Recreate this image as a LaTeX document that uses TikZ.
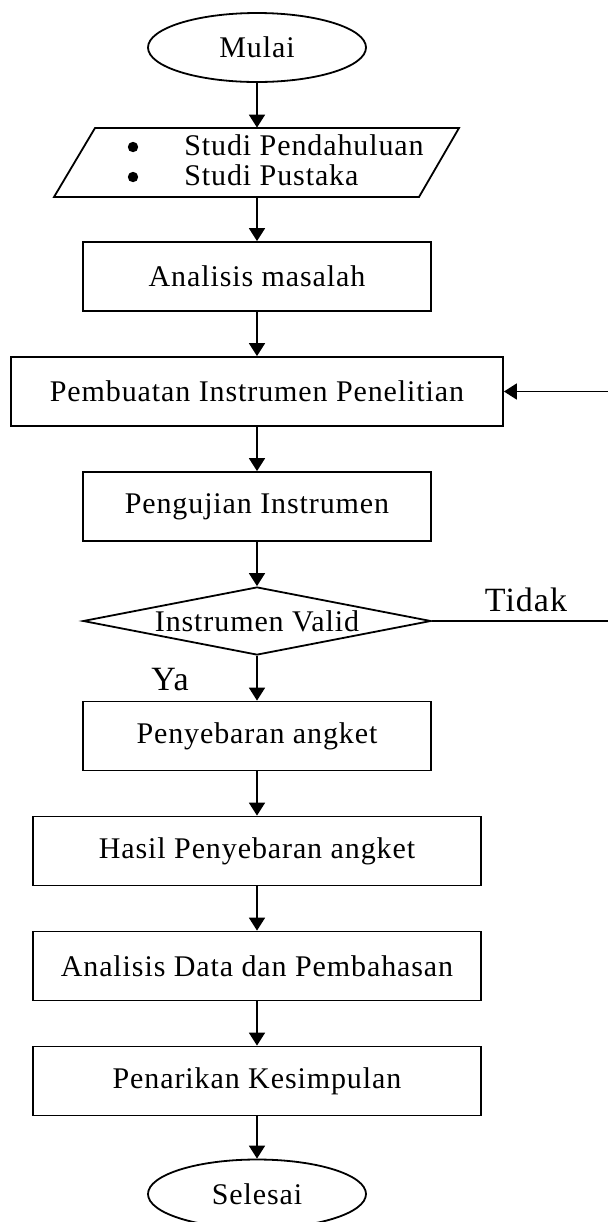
\documentclass[tikz,border=0pt]{standalone}
\usepackage{fontspec}
\setmainfont{Liberation Serif}[LetterSpace=3]
\usetikzlibrary{shapes.geometric,arrows.meta}

\begin{document}
\begin{tikzpicture}[x=0.5pt,y=-0.5pt,font=\fontsize{15}{17}\selectfont]
    \useasboundingbox (0,0) rectangle (608,1222);

    % start and end
    \begin{scope}[every node/.style={ellipse, draw, line width=0.9pt, minimum width=109pt, minimum height=34.5pt, inner sep=0pt}]
        \node (mulai) at (257,47.5) {Mulai};
        \node (selesai) at (257,1194) {Selesai};
    \end{scope}

    % input
    \draw[line width=0.9pt] (95,128) -- (459,128) -- (419,197) -- (54,197) -- cycle;
    \node (studi) at (257,162.5) [minimum width=160pt, minimum height=34.5pt, inner sep=0pt] {};
    \fill (133,147) circle [radius=2.6pt];
    \fill (133,177) circle [radius=2.6pt];
    \begin{scope}[every node/.style={inner sep=0pt, anchor=base west}]
        \node (pend) at (184,155) {Studi Pendahuluan};
        \node (pust) at (184,185) {Studi Pustaka};
    \end{scope}

    % process boxes
    \begin{scope}[every node/.style={rectangle, draw, line width=0.9pt, minimum width=174pt, minimum height=34.5pt, inner sep=0pt}]
        \node (analisis) at (257,276.5) {Analisis masalah};
        \node[minimum width=246pt] (pembuatan) at (257,391.5) {Pembuatan Instrumen Penelitian};
        \node (pengujian) at (257,506.5) {Pengujian Instrumen};
        \node (penyebaran) at (257,736) {Penyebaran angket};
        \node[minimum width=224pt] (hasil) at (257,851) {Hasil Penyebaran angket};
        \node[minimum width=224pt] (data) at (257,966) {Analisis Data dan Pembahasan};
        \node[minimum width=224pt] (penarikan) at (257,1081) {Penarikan Kesimpulan};
    \end{scope}

    % decision
    \node[diamond, draw, line width=0.9pt, aspect=5.1, minimum width=174pt, minimum height=34pt, inner sep=0pt] (valid) at (257,621) {Instrumen Valid};

    \coordinate (loopin) at (608,391.5);
    \coordinate (loopout) at (608,621);

    \begin{scope}[every edge/.style={draw, line width=0.9pt}]
        \path [-{Triangle[length=6.5pt,width=8pt]}] (mulai) edge (studi);
        \path [-{Triangle[length=6.5pt,width=8pt]}] (studi) edge (analisis);
        \path [-{Triangle[length=6.5pt,width=8pt]}] (analisis) edge (pembuatan);
        \path [-{Triangle[length=6.5pt,width=8pt]}] (pembuatan) edge (pengujian);
        \path [-{Triangle[length=6.5pt,width=8pt]}] (pengujian) edge (valid);
        \path [-{Triangle[length=6.5pt,width=8pt]}] (valid) edge (penyebaran);
        \path [-{Triangle[length=6.5pt,width=8pt]}] (penyebaran) edge (hasil);
        \path [-{Triangle[length=6.5pt,width=8pt]}] (hasil) edge (data);
        \path [-{Triangle[length=6.5pt,width=8pt]}] (data) edge (penarikan);
        \path [-{Triangle[length=6.5pt,width=8pt]}] (penarikan) edge (selesai);
        \path [-] (valid) edge (loopout);
        \path [-{Triangle[length=6.5pt,width=8pt]}] (loopin) edge (pembuatan);
    \end{scope}

    \node[font=\fontsize{17}{20}\selectfont] (tidak) at (526,600) {Tidak};
    \node[font=\fontsize{17}{20}\selectfont] (ya) at (170,680) {Ya};
\end{tikzpicture}
\end{document}
